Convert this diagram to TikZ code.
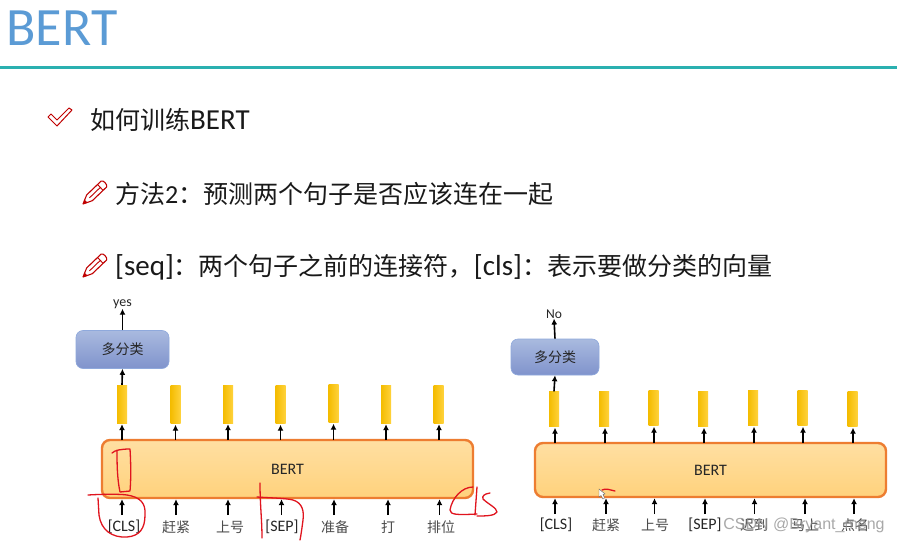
\documentclass[tikz,border=0pt]{standalone}
\usepackage{fontspec}
\setmainfont{Carlito}
\newfontfamily\cjkfont{Noto Sans CJK SC}
\newfontfamily\wmfont{Liberation Sans}
\usetikzlibrary{arrows.meta}
\newcommand{\fsz}[1]{\fontsize{#1}{#1}\selectfont}
\newcommand{\fwcolon}{\symbol{"FF1A}}
\newcommand{\fwcomma}{\symbol{"FF0C}}
\definecolor{scrib}{HTML}{E0141E}
\definecolor{iconred}{HTML}{C00000}
\definecolor{bertTop}{HTML}{FFDFA2}
\definecolor{bertBot}{HTML}{FFD27C}
\definecolor{bertEdge}{HTML}{ED7D31}
\definecolor{clsTop}{HTML}{A9BADF}
\definecolor{clsBot}{HTML}{8093CC}
\definecolor{clsEdge}{HTML}{8FA9DC}
\definecolor{barL}{HTML}{F4BC00}
\definecolor{barR}{HTML}{FFD23C}
\definecolor{titleBlue}{HTML}{5B9BD5}
\definecolor{ruleTeal}{HTML}{2AB0B0}
\tikzset{
  x=1pt,y=-1pt,
  bertbox/.style={draw=bertEdge,line width=2.4pt,rounded corners=8pt,top color=bertTop,bottom color=bertBot,minimum height=#1,inner sep=0pt,text=black!85},
  clsbox/.style={draw=clsEdge,line width=.6pt,rounded corners=7pt,top color=clsTop,bottom color=clsBot,inner sep=0pt,text=black!85},
  vecbar/.style={left color=barL,right color=barR,minimum width=10pt,minimum height=38pt,inner sep=0pt},
  flow/.style={-{Latex[length=6pt,width=6pt]},line width=1.6pt,black},
  wordlabel/.style={inner sep=0pt,text=black!70,font=\fsz{14}\cjkfont},
  latinlabel/.style={inner sep=0pt,text=black!85,font=\fsz{16}},
  bodytext/.style={anchor=west,inner sep=0pt,text=black!90,font=\fsz{25}\cjkfont},
  ink/.style={draw=scrib,line width=1.3pt,line cap=round,line join=round},
  pencilicon/.pic={
    \draw[iconred,line width=1.1pt,line join=round,fill=white]
      (0,0) -- (3.7,-9.1) -- (18.1,-22.9) .. controls (20,-24.5) and (25,-19) .. (23.7,-17.1) -- (9.3,-3.3) -- cycle;
    \fill[iconred] (0,0) -- (1.6,-4.2) -- (4.5,-1.3) -- cycle;
    \draw[iconred,line width=.9pt] (14.5,-19.5) -- (20.1,-13.7) (6.5,-6.2) -- (17.3,-16.6);
  }
}
\begin{document}
\begin{tikzpicture}
\useasboundingbox (0,0) rectangle (897,543);
\fill[white] (0,0) rectangle (897,543);
% header
\node[anchor=center,inner sep=0pt,font=\fsz{54},text=titleBlue] (title) at (62,28) {BERT};
\coordinate (ruleL) at (0,68);
\coordinate (ruleR) at (897,68);
\draw[line width=3pt,color=ruleTeal] (ruleL) -- (ruleR);
% bullets
\draw[iconred,line width=1pt,line join=round,fill=white]
  (48,117) -- (51,114) -- (57,120) -- (69,108) -- (72,110) -- (57,126) -- cycle;
\node[bodytext] (b1) at (90,120) {如何训练{\fsz{29}\rmfamily BERT}};
\pic at (83,204) {pencilicon};
\node[bodytext] (b2) at (115,194) {方法{\fsz{26}\rmfamily 2}\fwcolon 预测两个句子是否应该连在一起};
\pic at (83,277) {pencilicon};
\node[bodytext] (b3) at (115,267) {{\fsz{29}\rmfamily [seq]}\fwcolon 两个句子之前的连接符\fwcomma{\fsz{29}\rmfamily [cls]}\fwcolon 表示要做分类的向量};
% left diagram
\node[bertbox=58pt,minimum width=371pt,font=\fsz{16}] (bertL) at (287.5,469) {BERT};
\node[clsbox,minimum width=93pt,minimum height=38pt,font=\fsz{14}\cjkfont] (clsL) at (122.5,349.5) {多分类};
\node[inner sep=0pt,font=\fsz{14},text=black!85] (yes) at (122.5,304) {yes};
\foreach \n/\x/\y in {1/122/404,2/175.5/404.5,3/228/404,4/280.5/404.5,5/333.5/403.5,6/386/404,7/438.5/404}
  \node[vecbar] (l\n) at (\x,\y) {};
\foreach \n/\x/\t/\s in {1/124/{[CLS]}/latinlabel,2/176/赶紧/wordlabel,3/230/上号/wordlabel,4/282/{[SEP]}/latinlabel,5/335/准备/wordlabel,6/388/打/wordlabel,7/441/排位/wordlabel}
  \node[\s] (tl\n) at (\x,527) {\t};
\foreach \n/\x/\xb in {1/122/122,2/176/175.5,3/228/228,4/281.5/280.5,5/334/333.5,6/388/386,7/439.5/439}{
  \coordinate (il\n) at (\x,515);
  \coordinate (jl\n) at (\xb,440);
  \draw[flow] (il\n) -- (il\n |- bertL.south);
  \draw[flow,shorten >=1pt] (jl\n) -- (l\n.south -| jl\n);
}
\draw[flow] (l1.north) -- (clsL.south);
\draw[flow] (clsL.north) -- (yes.south);
% right diagram
\node[bertbox=54pt,minimum width=351pt,font=\fsz{16}] (bertR) at (710.5,470) {BERT};
\node[clsbox,minimum width=88pt,minimum height=36pt,font=\fsz{14}\cjkfont] (clsR) at (555,357) {多分类};
\node[inner sep=0pt,font=\fsz{13.5},text=black!85] (no) at (554,314) {No};
\foreach \n/\x/\y in {1/554/409,2/604/409,3/653.5/408,4/703/409,5/753/408,6/802.5/408,7/852.5/409}
  \node[vecbar,minimum height=35pt] (r\n) at (\x,\y) {};
\foreach \n/\x/\t/\s in {1/556/{[CLS]}/latinlabel,2/606/赶紧/wordlabel,3/655/上号/wordlabel,4/705/{[SEP]}/latinlabel,5/754/迟到/wordlabel,6/805/马上/wordlabel,7/855/点名/wordlabel}
  \node[\s] (tr\n) at (\x,525) {\t};
\foreach \n/\x/\xb in {1/555/555,2/606/605,3/654.5/654,4/705/704,5/754.5/754,6/805/803,7/854/853}{
  \coordinate (ir\n) at (\x,514);
  \coordinate (jr\n) at (\xb,443);
  \draw[flow] (ir\n) -- (ir\n |- bertR.south);
  \draw[flow,shorten >=1pt] (jr\n) -- (r\n.south -| jr\n);
}
\draw[flow] (r1.north) -- (clsR.south);
\draw[flow] (clsR.north) -- (no.south);
% watermark
\node[inner sep=0pt,anchor=center,font=\fsz{16}\wmfont,text=black!45,opacity=.75] (wm) at (804,525) {CSDN @Bryant\_meng};
% red handwriting
\draw[ink] (112,453) .. controls (115,450) and (122,449) .. (130,449) .. controls (131,465) and (131,480) .. (130,491) -- (120,492) .. controls (117,478) and (117,462) .. (117,450);
\draw[ink] (88,495) .. controls (105,494) and (120,494) .. (127,495) .. controls (140,497) and (146,503) .. (145,515) .. controls (145,528) and (140,536) .. (127,537) .. controls (112,538) and (101,530) .. (99,515) -- (98,498);
\draw[ink] (260,483) .. controls (260,505) and (262,520) .. (262,538);
\draw[ink] (257,497) .. controls (270,498) and (285,498) .. (293,500) .. controls (303,503) and (304,512) .. (303,520) .. controls (302,528) and (301,535) .. (300,540);
\draw[ink] (473,487) .. controls (462,487) and (452,498) .. (450,510) .. controls (450,515) and (458,515) .. (477,514);
\draw[ink] (477,487) -- (475,515);
\draw[ink] (490,493) .. controls (484,494) and (482,496) .. (483,499) .. controls (488,504) and (497,508) .. (497,512) .. controls (495,516) and (485,516) .. (477,516);
\draw[ink] (602,490) .. controls (606,488) and (610,490) .. (615,491);
\draw[black!60,fill=white,line width=.4pt] (599,489) -- (599,497) -- (601,495.5) -- (603,499) -- (604.5,498) -- (603,494.5) -- (605,494) -- cycle;
\end{tikzpicture}
\end{document}
